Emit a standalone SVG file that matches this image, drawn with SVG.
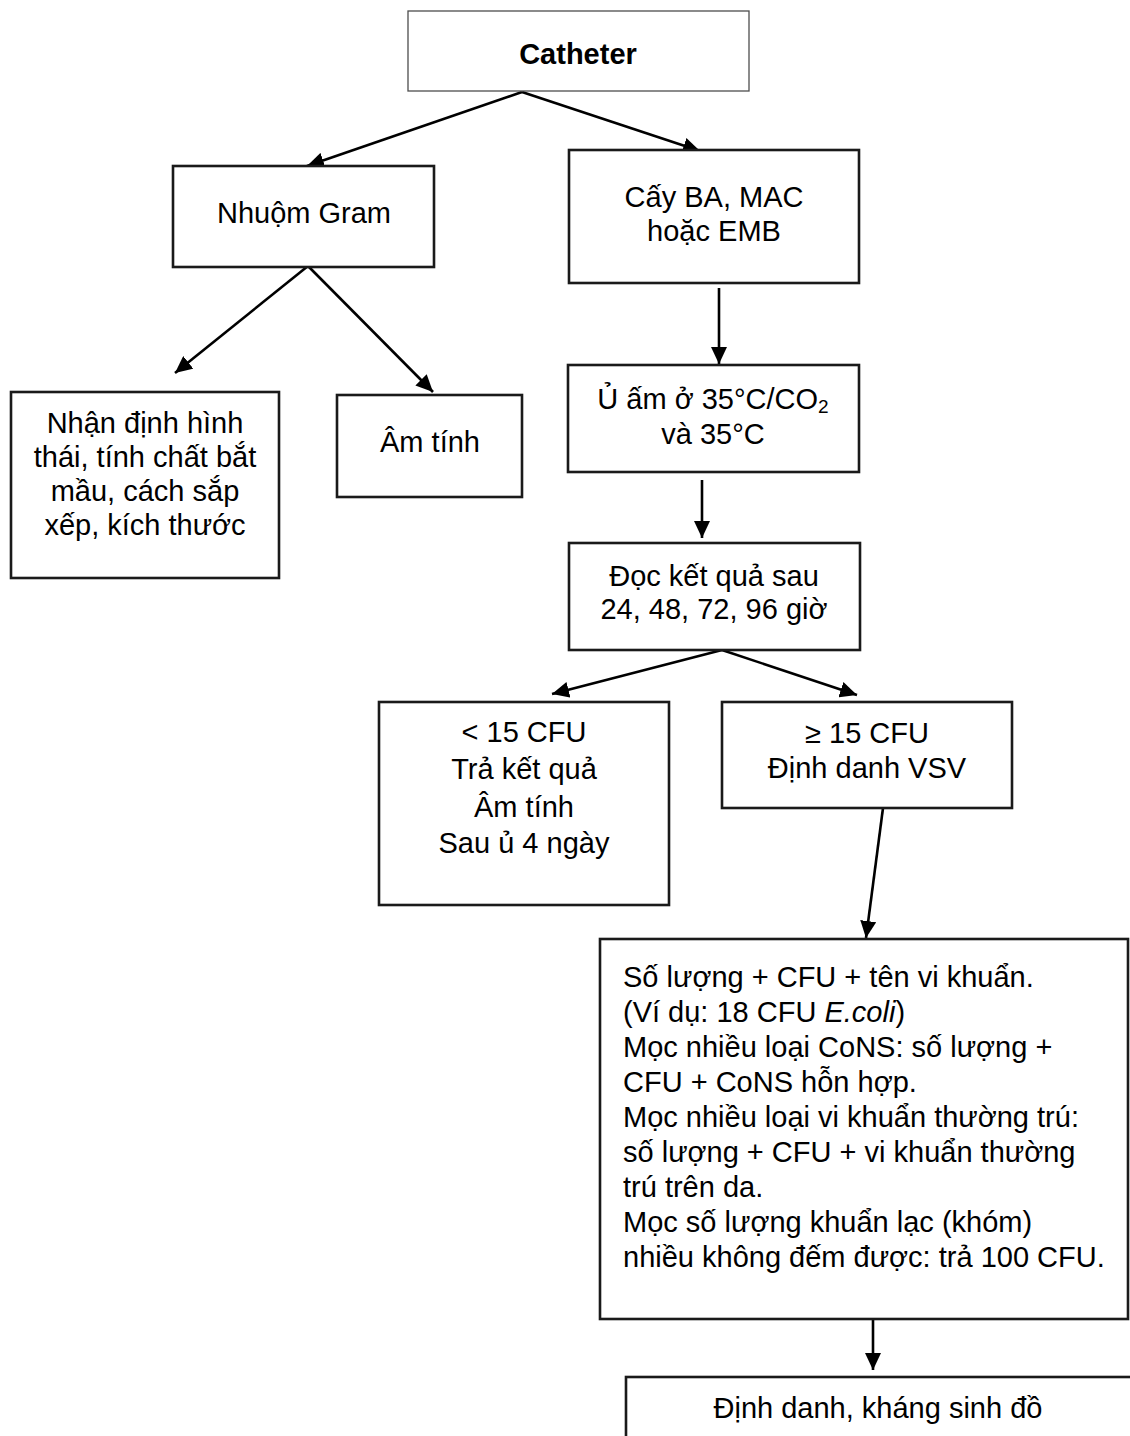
<svg xmlns="http://www.w3.org/2000/svg" width="1130" height="1436" viewBox="0 0 1130 1436">
  <style>
    .box { fill: #ffffff; stroke: #1a1a1a; stroke-width: 2.6; }
    .box-thin { fill: #ffffff; stroke: #4d4d4d; stroke-width: 1.3; }
    .t { font-family: "Liberation Sans", Arial, sans-serif; font-size: 29px; fill: #000000; }
    .c { text-anchor: middle; }
    .b { font-weight: bold; }
    .link { stroke: #000000; stroke-width: 2.6; fill: none; marker-end: url(#head); }
  </style>
  <defs>
    <marker id="head" markerUnits="userSpaceOnUse" markerWidth="18" markerHeight="16" refX="17" refY="8" orient="auto">
      <path d="M0,0 L17,8 L0,16 z" fill="#000000"/>
    </marker>
  </defs>

  <rect width="1130" height="1436" fill="#ffffff"/>

  <g id="connectors">
    <line class="link" x1="522" y1="92" x2="307" y2="166"/>
    <line class="link" x1="522" y1="92" x2="700" y2="151"/>
    <line class="link" x1="308" y1="266" x2="175" y2="373"/>
    <line class="link" x1="308" y1="266" x2="433" y2="392"/>
    <line class="link" x1="719" y1="288" x2="719" y2="364"/>
    <line class="link" x1="702" y1="480" x2="702" y2="538"/>
    <line class="link" x1="722" y1="650" x2="552" y2="694"/>
    <line class="link" x1="722" y1="650" x2="857" y2="695"/>
    <line class="link" x1="883" y1="808" x2="866" y2="938"/>
    <line class="link" x1="873" y1="1320" x2="873" y2="1370"/>
  </g>

  <g id="catheter">
    <rect class="box-thin" x="408" y="11" width="341" height="80"/>
    <text class="t c b" x="578" y="64">Catheter</text>
  </g>

  <g id="nhuom-gram">
    <rect class="box" x="173" y="166" width="261" height="101"/>
    <text class="t c" x="304" y="223">Nhuộm Gram</text>
  </g>

  <g id="cay">
    <rect class="box" x="569" y="150" width="290" height="133"/>
    <text class="t c" x="714" y="207">Cấy BA, MAC</text>
    <text class="t c" x="714" y="241">hoặc EMB</text>
  </g>

  <g id="nhan-dinh">
    <rect class="box" x="11" y="392" width="268" height="186"/>
    <text class="t c" x="145" y="433">Nhận định hình</text>
    <text class="t c" x="145" y="467">thái, tính chất bắt</text>
    <text class="t c" x="145" y="501">mầu, cách sắp</text>
    <text class="t c" x="145" y="535">xếp, kích thước</text>
  </g>

  <g id="am-tinh">
    <rect class="box" x="337" y="395" width="185" height="102"/>
    <text class="t c" x="430" y="452">Âm tính</text>
  </g>

  <g id="u-am">
    <rect class="box" x="568" y="365" width="291" height="107"/>
    <text class="t c" x="713" y="409">Ủ ấm ở 35°C/CO<tspan font-size="19" dy="4">2</tspan></text>
    <text class="t c" x="713" y="444">và 35°C</text>
  </g>

  <g id="doc-ket-qua">
    <rect class="box" x="569" y="543" width="291" height="107"/>
    <text class="t c" x="714" y="586">Đọc kết quả sau</text>
    <text class="t c" x="714" y="619">24, 48, 72, 96 giờ</text>
  </g>

  <g id="duoi-15">
    <rect class="box" x="379" y="702" width="290" height="203"/>
    <text class="t c" x="524" y="742">&lt; 15 CFU</text>
    <text class="t c" x="524" y="779">Trả kết quả</text>
    <text class="t c" x="524" y="817">Âm tính</text>
    <text class="t c" x="524" y="853">Sau ủ 4 ngày</text>
  </g>

  <g id="tren-15">
    <rect class="box" x="722" y="702" width="290" height="106"/>
    <text class="t c" x="867" y="743">≥ 15 CFU</text>
    <text class="t c" x="867" y="778">Định danh VSV</text>
  </g>

  <g id="tra-ket-qua">
    <rect class="box" x="600" y="939" width="528" height="380"/>
    <text class="t" x="623" y="987">Số lượng + CFU + tên vi khuẩn.</text>
    <text class="t" x="623" y="1022">(Ví dụ: 18 CFU <tspan font-style="italic">E.coli</tspan>)</text>
    <text class="t" x="623" y="1057">Mọc nhiều loại CoNS: số lượng +</text>
    <text class="t" x="623" y="1092">CFU + CoNS hỗn hợp.</text>
    <text class="t" x="623" y="1127">Mọc nhiều loại vi khuẩn thường trú:</text>
    <text class="t" x="623" y="1162">số lượng + CFU + vi khuẩn thường</text>
    <text class="t" x="623" y="1197">trú trên da.</text>
    <text class="t" x="623" y="1232">Mọc số lượng khuẩn lạc (khóm)</text>
    <text class="t" x="623" y="1267">nhiều không đếm được: trả 100 CFU.</text>
  </g>

  <g id="dinh-danh">
    <rect class="box" x="626" y="1377" width="520" height="100"/>
    <text class="t c" x="878" y="1418">Định danh, kháng sinh đồ</text>
  </g>
</svg>
